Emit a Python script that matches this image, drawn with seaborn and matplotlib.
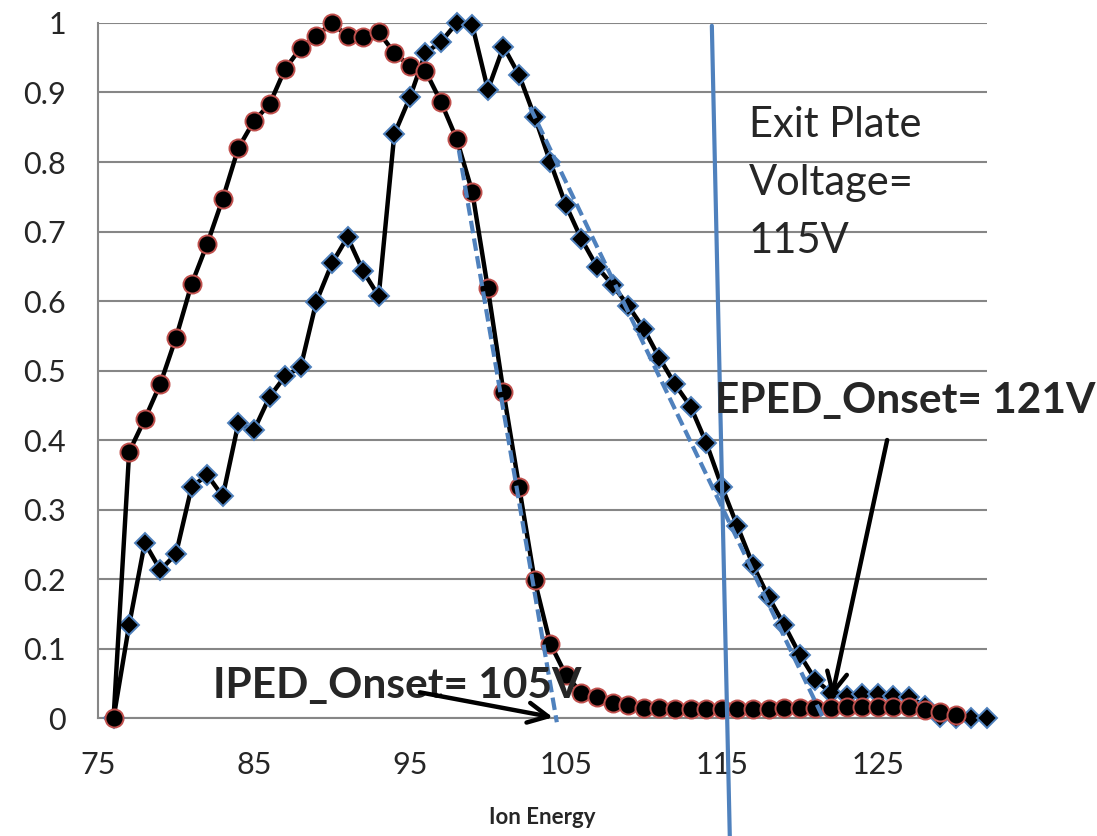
import seaborn as sns
from matplotlib import pyplot as plt

# ion / electron energy distributions (normalised)
ion_energy = list(range(76, 131))
iped = [0.0, 0.383, 0.430, 0.481, 0.547, 0.624, 0.682, 0.747, 0.820, 0.859,
        0.883, 0.934, 0.964, 0.981, 1.0, 0.981, 0.980, 0.987, 0.957, 0.938,
        0.931, 0.886, 0.833, 0.757, 0.618, 0.469, 0.333, 0.198, 0.107, 0.062,
        0.036, 0.030, 0.022, 0.019, 0.015, 0.014, 0.013, 0.013, 0.013, 0.013,
        0.013, 0.013, 0.013, 0.014, 0.014, 0.015, 0.015, 0.016, 0.016, 0.016,
        0.016, 0.016, 0.012, 0.008, 0.005]

ele_energy = list(range(76, 133))
eped = [0.0, 0.134, 0.252, 0.213, 0.236, 0.332, 0.350, 0.319, 0.424, 0.414,
        0.462, 0.492, 0.505, 0.599, 0.654, 0.692, 0.643, 0.607, 0.840, 0.893,
        0.957, 0.973, 1.0, 0.997, 0.904, 0.966, 0.925, 0.865, 0.800, 0.738,
        0.689, 0.649, 0.623, 0.593, 0.560, 0.518, 0.480, 0.448, 0.396, 0.333,
        0.276, 0.220, 0.174, 0.134, 0.091, 0.055, 0.036, 0.032, 0.035, 0.035,
        0.032, 0.030, 0.018, 0.002, 0.0, 0.0, 0.0]

# linear onset fits (dashed) and exit plate marker
ion_fit_x = [98.14, 104.42]
ion_fit_y = [0.817, -0.006]
ele_fit_x = [102.7, 121.5]
ele_fit_y = [0.879, 0.0]
plate_x = [114.36, 115.51]
plate_y = [0.996, -0.170]

x_ticks = [75, 85, 95, 105, 115, 125]
y_ticks = [0, 0.1, 0.2, 0.3, 0.4, 0.5, 0.6, 0.7, 0.8, 0.9, 1]
y_labels = ['0', '0.1', '0.2', '0.3', '0.4', '0.5', '0.6', '0.7', '0.8', '0.9', '1']

sns.set_style("white")
plt.rcParams['font.family'] = ['Lato', 'DejaVu Sans']

BLUE = '#4F81BD'
RED = '#C0504D'
GRID = '#868686'

fig = plt.figure(figsize=(10.97, 8.36), dpi=100)
ax = fig.add_axes([0.0893, 0.1411, 0.8104, 0.8314])

sns.lineplot(x=ele_energy, y=eped, ax=ax, color='black', lw=3.2,
             marker='D', markersize=10, markerfacecolor='black',
             markeredgecolor=BLUE, markeredgewidth=1.4, zorder=3,
             clip_on=False)
sns.lineplot(x=ion_energy, y=iped, ax=ax, color='black', lw=3.2,
             marker='o', markersize=13, markerfacecolor='black',
             markeredgecolor=RED, markeredgewidth=1.4, zorder=4,
             clip_on=False)

ax.plot(ion_fit_x, ion_fit_y, color=BLUE, lw=3, ls=(0, (3, 1.3)), zorder=5,
        clip_on=False)
ax.plot(ele_fit_x, ele_fit_y, color=BLUE, lw=3, ls=(0, (3, 1.3)), zorder=5)
ax.plot(plate_x, plate_y, color=BLUE, lw=3, zorder=6, clip_on=False)

ax.set_xlim(75, 132)
ax.set_ylim(0, 1)
ax.set_xticks(x_ticks)
ax.set_yticks(y_ticks)
ax.set_yticklabels(y_labels)
ax.tick_params(axis='both', labelsize=22, length=8, width=1.4, color=GRID,
               direction='out')
ax.tick_params(axis='x', pad=16)
ax.tick_params(axis='y', pad=15)
ax.yaxis.grid(True, color=GRID, lw=1.5)
ax.set_axisbelow(True)
for s in ['top', 'right']:
    ax.spines[s].set_visible(False)
for s in ['left', 'bottom']:
    ax.spines[s].set_color(GRID)
    ax.spines[s].set_linewidth(1.5)

ax.set_xlabel("Ion Energy", fontsize=16, fontweight='bold', labelpad=20)

# annotations
ax.text(116.73, 0.836, "Exit Plate", fontsize=30, va='baseline')
ax.text(116.73, 0.752, "Voltage=", fontsize=30, va='baseline')
ax.text(116.73, 0.669, "115V", fontsize=30, va='baseline')

ax.text(114.55, 0.439, "EPED_Onset= 121V", fontsize=30.5, fontweight='bold',
        va='baseline', zorder=7, clip_on=False)
ax.text(82.36, 0.029, "IPED_Onset= 105V", fontsize=30.5, fontweight='bold',
        va='baseline', zorder=7)

arrow = dict(arrowstyle='->', lw=3.2, color='black', mutation_scale=36,
             shrinkA=0, shrinkB=0)
ax.annotate('', xy=(104.17, 0.001), xytext=(95.64, 0.037),
            arrowprops=arrow, zorder=8)
ax.annotate('', xy=(122.05, 0.030), xytext=(125.6, 0.40),
            arrowprops=arrow, zorder=8)

plt.savefig("out.png", dpi=100)
